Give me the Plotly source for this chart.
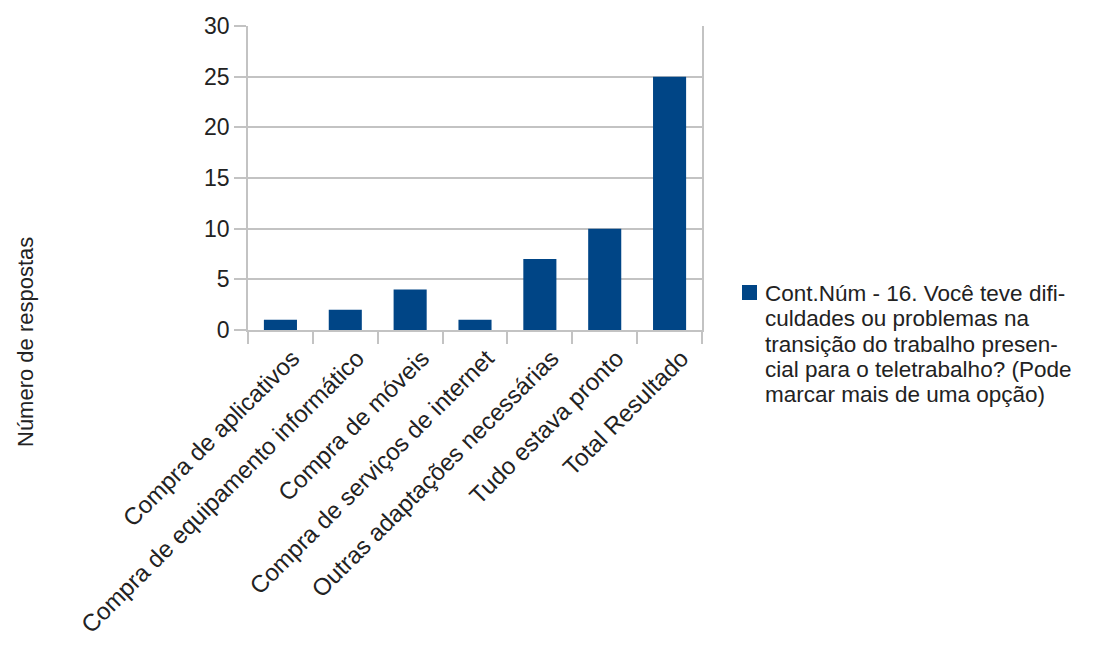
import plotly.graph_objects as go

categories = [
    "Compra de aplicativos",
    "Compra de equipamento informático",
    "Compra de móveis",
    "Compra de serviços de internet",
    "Outras adaptações necessárias",
    "Tudo estava pronto",
    "Total Resultado",
]
values = [1, 2, 4, 1, 7, 10, 25]
y_ticks = [0, 5, 10, 15, 20, 25, 30]
legend_lines = [
    "Cont.Núm - 16. Você teve difi-",
    "culdades ou problemas na",
    "transição do trabalho presen-",
    "cial para o teletrabalho? (Pode",
    "marcar mais de uma opção)",
]

BAR = "#004586"
GRID = "#c3c3c3"
TEXT = "#222222"
FONT = "Liberation Sans"
W, H = 1104, 657
L, R, T, B = 248, 402, 26, 327


def px_x(px):
    """Pixel column -> paper x."""
    return (px - L) / (W - L - R)


def px_y(py):
    """Pixel row -> paper y."""
    return (H - B - py) / (H - T - B)


fig = go.Figure(
    go.Bar(
        x=categories,
        y=values,
        marker=dict(color=BAR, line=dict(width=0)),
        width=0.51,
        showlegend=False,
    )
)

fig.update_layout(
    width=W,
    height=H,
    margin=dict(l=L, r=R, t=T, b=B),
    paper_bgcolor="white",
    plot_bgcolor="white",
    font=dict(family=FONT, color=TEXT),
)

fig.update_xaxes(
    type="category",
    tickangle=-45,
    tickfont=dict(size=24, color=TEXT),
    ticks="outside",
    tickson="boundaries",
    ticklen=12,
    tickwidth=1.5,
    tickcolor=GRID,
    ticklabelshift=12,
    ticklabelstandoff=3,
    showline=True,
    linecolor=GRID,
    linewidth=1.5,
    showgrid=False,
)

fig.update_yaxes(
    range=[0, 30],
    tickvals=y_ticks,
    tickfont=dict(size=23, color=TEXT),
    ticks="outside",
    ticklen=12,
    tickwidth=1.5,
    tickcolor=GRID,
    showgrid=True,
    gridcolor=GRID,
    gridwidth=1.5,
    showline=True,
    linecolor=GRID,
    linewidth=1.5,
    mirror=True,
    zeroline=False,
)

# vertical axis title, centred on the whole chart height
fig.add_annotation(
    text="Número de respostas",
    xref="paper", yref="paper",
    x=px_x(25), y=px_y(342),
    xanchor="center", yanchor="middle",
    textangle=-90, showarrow=False,
    font=dict(size=22, family=FONT, color=TEXT),
)

# series key: square swatch plus wrapped series name
LINE_STEP = 25.3
FIRST_LINE = 293.5
fig.add_shape(
    type="rect", xref="paper", yref="paper",
    x0=px_x(742), x1=px_x(757),
    y0=px_y(FIRST_LINE + 6.5), y1=px_y(FIRST_LINE - 8.5),
    fillcolor=BAR, line=dict(width=0),
)
for i, line in enumerate(legend_lines):
    fig.add_annotation(
        text=line, xref="paper", yref="paper",
        x=px_x(763), y=px_y(FIRST_LINE + LINE_STEP * i),
        xanchor="left", yanchor="middle", showarrow=False,
        font=dict(size=22.5, family=FONT, color=TEXT),
    )

fig.write_html("out.html")
